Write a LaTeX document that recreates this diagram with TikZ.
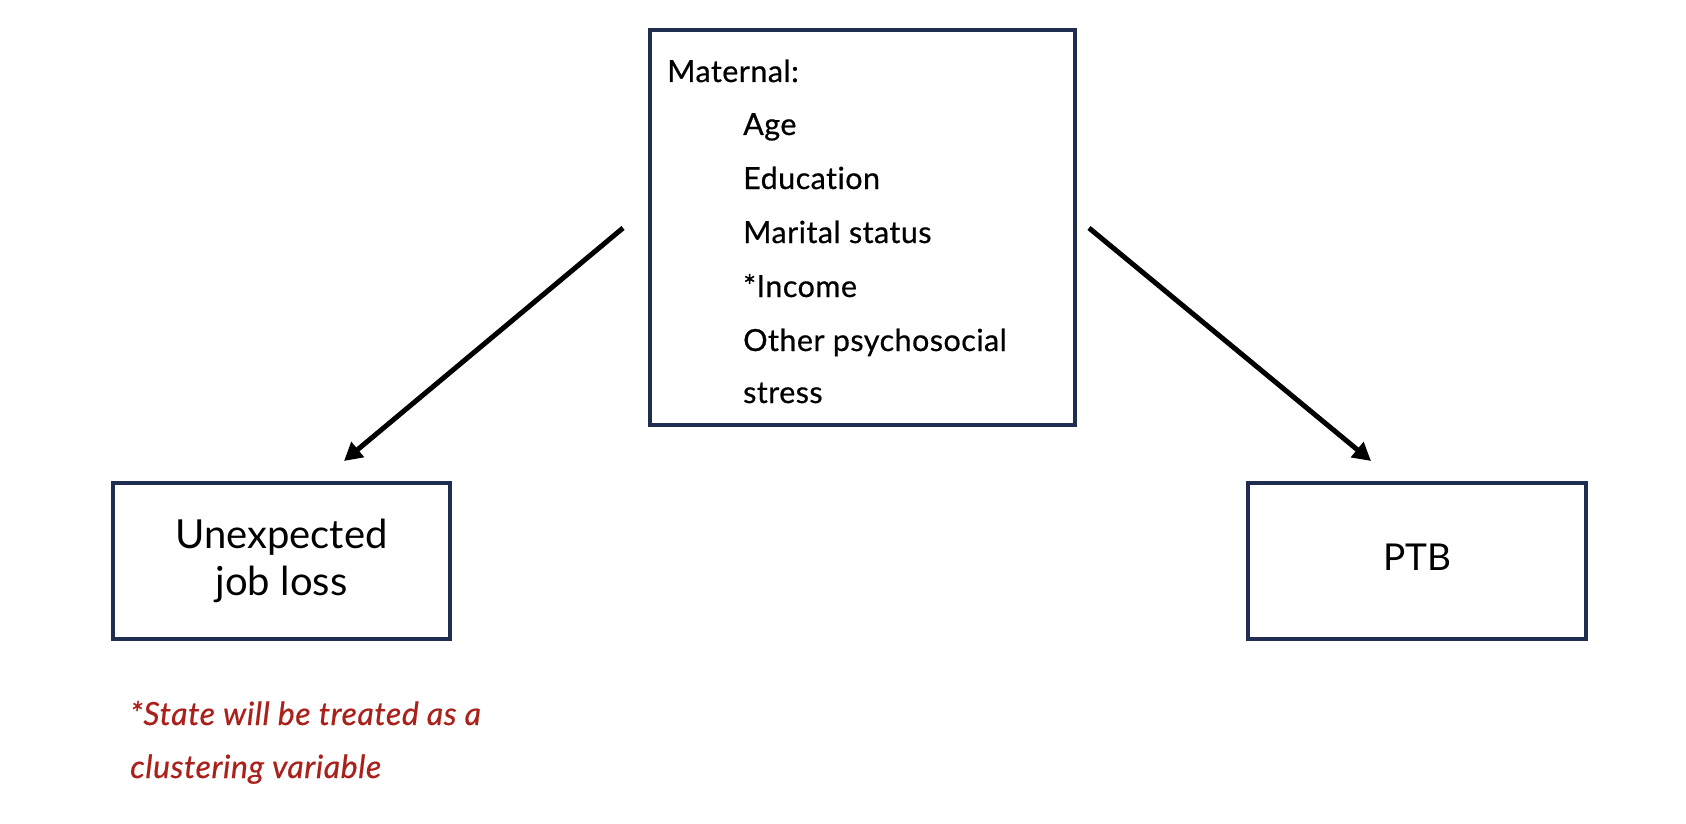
\documentclass[tikz,border=0pt]{standalone}
\usepackage{fontspec}
\setmainfont{Lato}[Ligatures=NoCommon]
\newfontfamily\medfont{Lato}[Ligatures=NoCommon, FakeBold=0.6, LetterSpace=1.5]
\newfontfamily\notefont{Lato}[Ligatures=NoCommon, FakeBold=0.5, LetterSpace=1.8, ItalicFont=Lato Italic]
\usetikzlibrary{arrows.meta}
\definecolor{navy}{RGB}{31,45,80}
\definecolor{note}{RGB}{170,32,26}
\tikzset{
  box/.style={draw=navy, line width=4pt, fill=white, rectangle, inner sep=0pt},
  txt/.style={inner sep=0pt, anchor=base west, font=\medfont\fontsize{30.5}{36}\selectfont},
  lbl/.style={inner sep=0pt, anchor=base, font=\fontsize{40}{48}\selectfont},
  notetxt/.style={inner sep=0pt, anchor=base west, text=note, font=\notefont\itshape\fontsize{32}{38}\selectfont},
  conn/.style={line width=5pt, -{Triangle[length=18pt,width=19pt]}},
}
\begin{document}
\begin{tikzpicture}[x=1pt,y=-1pt]
\useasboundingbox (0,0) rectangle (1686,824);
% boxes
\node[box, minimum width=425pt, minimum height=395pt] (conf) at (862.5,227.5) {};
\node[box, minimum width=337pt, minimum height=156pt] (exp) at (281.5,561) {};
\node[box, minimum width=338pt, minimum height=156pt] (out) at (1417,561) {};
% confounder text
\node[txt] (mat) at (667,82) {Maternal:};
\node[txt] (age) at (743,135) {Age};
\node[txt] (edu) at (743,189) {Education};
\node[txt] (mar) at (743,243) {Marital status};
\node[txt] (inc) at (743,297) {*Income};
\node[txt] (oth) at (743,351) {Other psychosocial};
\node[txt] (str) at (743,403) {stress};
% exposure text
\node[lbl] (une) at (281.5,548) {Unexpected};
\node[lbl] (job) at (281.5,595) {job loss};
% outcome text
\node[inner sep=0pt, anchor=base, font=\fontsize{37}{44}\selectfont] (ptb) at (1417,570) {PTB};
% note
\node[notetxt] (n1) at (130,725) {*State will be treated as a};
\node[notetxt] (n2) at (130,778) {clustering variable};
% arrows
\coordinate (a1s) at (623,228);
\coordinate (a1e) at (344,461);
\coordinate (a2s) at (1089,228);
\coordinate (a2e) at (1371,461);
\draw[conn] (a1s) -- (a1e);
\draw[conn] (a2s) -- (a2e);
\end{tikzpicture}
\end{document}
